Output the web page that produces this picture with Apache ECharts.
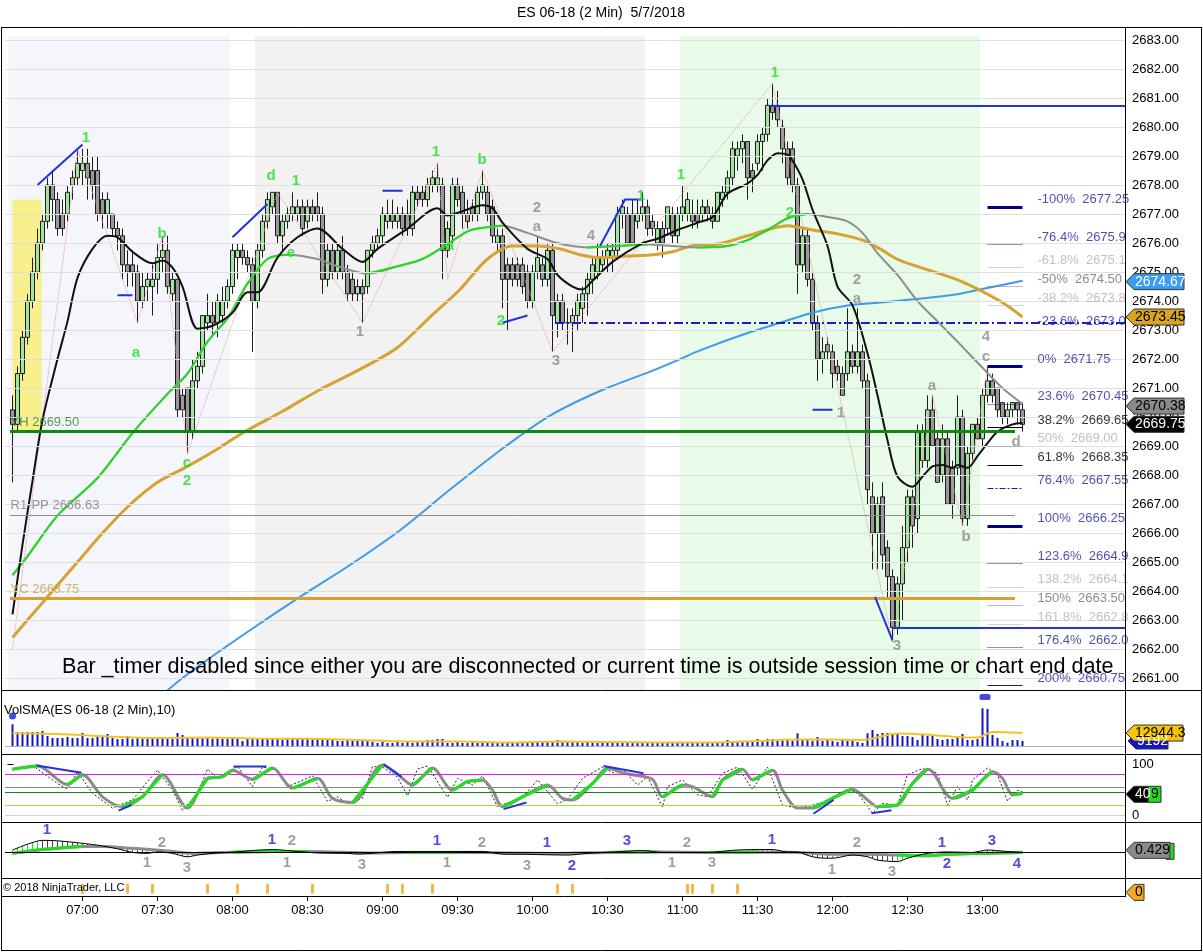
<!DOCTYPE html>
<html><head><meta charset="utf-8">
<script src="https://cdn.jsdelivr.net/npm/echarts@6/dist/echarts.min.js"></script>
<style>html,body{margin:0;padding:0;background:#fff;}#c{width:1203px;height:952px;}</style>
</head><body><div id="c"></div>
<script>
// ---------- categories (2-minute bars from 06:30) ----------
const times = [];
for (let i = 0; i < 224; i++) { const m = 390 + 2 * i; times.push(String(Math.floor(m / 60)).padStart(2, '0') + ':' + String(m % 60).padStart(2, '0')); }
const FIRST = 1; // first bar = 06:32
// ---------- candles [open, high, low, close] ----------
const ohlc = [
[2670.25,2670.75,2667.75,2669.75],[2669.75,2671.75,2669.5,2671.5],[2671.5,2673,2671.25,2672.75],[2672.75,2674.25,2672.5,2674],[2674,2675.5,2673.75,2675],
[2675,2676.5,2674.75,2676],[2676,2677,2675.75,2676.75],[2676.75,2678.25,2676.5,2678],[2678,2678.5,2676.75,2677.5],[2677.5,2677.75,2676.25,2676.5],
[2677,2677.5,2676.25,2676.5],[2677,2678,2676.75,2677.75],[2678,2678.5,2677.5,2678.25],[2678.25,2679.25,2678,2678.75],[2678.5,2679.25,2678,2678.75],
[2678.75,2679.25,2677.5,2678.25],[2678.5,2679,2677.5,2678],[2678.5,2679,2676.75,2677],[2677.5,2677.75,2676.5,2677],[2677,2677.75,2676.5,2677.5],
[2677,2677,2676.25,2676.5],[2676.5,2676.75,2675.75,2676.25],[2676.25,2676.5,2674.75,2675.25],[2675.25,2675.75,2674.5,2675],[2675.25,2675.75,2674.5,2675],
[2675,2675.25,2673.25,2674],[2674,2675,2673.75,2674.5],[2674.5,2675,2674,2674.75],[2674.5,2675.25,2673.5,2674.75],[2674.75,2676,2674.25,2675.5],
[2675.5,2676.25,2675,2675.75],[2675.75,2676.25,2674.25,2674.5],[2674.25,2675,2674,2674.75],[2674.75,2674.75,2670,2670.25],[2670.75,2671,2670,2670.25],
[2671,2671,2668.75,2669.5],[2669.5,2672,2669.25,2671.25],[2671.25,2672.25,2671,2671.75],[2671.75,2673.5,2671.5,2673.5],[2673.25,2674.25,2673,2673.5],
[2673.5,2674,2672.75,2673.25],[2673.25,2674.25,2672.75,2674],[2673.5,2674.5,2673.25,2674],[2674,2674.75,2673.75,2674.5],[2674.5,2676,2674.25,2675.75],
[2675.5,2676,2674.75,2675.75],[2675.75,2676,2675.25,2675.5],[2675.5,2675.75,2675,2675.25],[2675.25,2675.5,2672.25,2674],[2674,2676,2673.75,2675.75],
[2675.75,2677,2675.5,2676.75],[2676.75,2677.75,2676.5,2677.5],[2677.25,2677.75,2677,2677.75],[2677.75,2677.75,2676,2676.25],[2676.25,2677,2675.75,2676.75],
[2676.75,2677.25,2676.5,2677],[2677,2677.75,2676.75,2677.25],[2677,2677.5,2676.75,2677.25],[2677.25,2677.5,2676.25,2676.5],[2676.75,2677.5,2676.5,2677.25],
[2677.25,2677.5,2676.75,2677],[2677.25,2677.75,2676.75,2677],[2677,2677.25,2674.25,2674.75],[2674.75,2676,2674.5,2675.75],[2675.75,2676,2674.75,2675],
[2675,2676,2674.75,2675.75],[2675.75,2676.25,2674.75,2675],[2675,2675.25,2674,2674.25],[2674.75,2675,2674,2674.25],[2674.25,2674.75,2674,2674.5],
[2674.5,2674.75,2673.25,2674.25],[2674.5,2675.75,2674.25,2675.75],[2675.75,2676.25,2675.5,2676],[2676,2676.5,2675.75,2676.25],[2676.25,2677.25,2676,2677],
[2676.75,2677.5,2676.5,2677],[2677,2677.5,2676.5,2676.75],[2676.75,2677.25,2676.5,2677],[2677,2677.25,2676.25,2676.5],[2677,2677.5,2676.25,2676.5],
[2676.5,2678,2676.25,2677.75],[2677.75,2678,2677.25,2677.5],[2677.75,2678,2677.25,2677.5],[2677.5,2678.25,2677.25,2678],[2678,2678.5,2677.75,2678.25],
[2678,2678.75,2677.75,2678.25],[2678,2678.25,2674.75,2675.75],[2675.75,2676.75,2675.5,2676.5],[2676.25,2678.25,2676,2678],[2678,2678.25,2677.25,2677.5],
[2677.75,2678,2676.5,2677],[2677,2677.5,2676.5,2676.75],[2677.25,2677.5,2676.75,2677],[2677,2678,2676.75,2677.75],[2677.75,2678.5,2677.5,2678],
[2677.75,2678,2676.75,2677],[2677.25,2677.5,2676,2676.25],[2676,2676.5,2675.75,2676.25],[2676.25,2676.5,2673.75,2674.75],[2675.25,2675.5,2673,2674.75],
[2675.25,2675.5,2674.5,2674.75],[2675.25,2675.5,2674.5,2674.75],[2675.25,2675.5,2674.25,2674.5],[2675,2675.25,2673.75,2674],[2674,2675.25,2673.75,2675],
[2675,2676.25,2674.75,2675.5],[2675.25,2675.5,2674.5,2674.75],[2674.75,2676,2674.5,2675.75],[2675.75,2676,2672.25,2673.5],[2673.25,2674.25,2672.75,2674],
[2674,2674.25,2673,2673.25],[2673.25,2673.75,2672.5,2673.25],[2673.25,2673.75,2672.25,2673.5],[2673.5,2674.25,2673,2674],[2673.75,2674.5,2673.25,2674.25],
[2674.25,2675,2673.5,2674.75],[2674.75,2675.5,2674.25,2675.25],[2675,2676,2674.75,2675.5],[2675.25,2675.75,2675,2675.5],[2675.5,2676,2675,2675.75],
[2675.5,2676,2675,2675.75],[2675.75,2677.25,2675.5,2677],[2677,2677.5,2676.5,2677.25],[2677,2677.25,2676,2676],[2677,2677.5,2676,2676],
[2676.75,2677.5,2676.5,2677],[2677,2677.75,2676.75,2677.25],[2677.25,2677.5,2676.25,2676.5],[2676.75,2677,2676.25,2676.5],[2676,2676.75,2675.75,2676.5],
[2676.5,2676.75,2675.5,2676],[2676.5,2677.25,2676.25,2677.25],[2677,2677.25,2676,2676.25],[2676.25,2677.25,2676,2677],[2677,2678,2676.75,2677.25],
[2677,2677.75,2676.75,2677.5],[2677,2677.5,2676.5,2676.75],[2677,2677.5,2676.5,2676.75],[2677,2677.5,2676.75,2677.25],[2677.25,2677.5,2676.75,2677],
[2677,2677.25,2676.5,2676.75],[2676.75,2677.75,2676.75,2677.75],[2677.5,2678,2677.25,2677.75],[2677.75,2678.5,2677.5,2678.25],[2678.25,2679.5,2678,2679.25],
[2679,2679.5,2678.5,2679.25],[2679.25,2679.75,2678.75,2679.5],[2679.5,2679.5,2677.5,2678.25],[2678.5,2678.75,2677.75,2678.25],[2678.75,2679.75,2678.5,2679.5],
[2679.5,2680,2678.5,2679.75],[2679.75,2681,2679.5,2680.75],[2680.75,2681.5,2680.25,2680.5],[2680.75,2681.25,2680,2680.25],[2680,2680.25,2678.75,2679.25],
[2679.25,2679.5,2678,2678.25],[2679.25,2679.5,2677.75,2678],[2678,2678.25,2674.25,2675.25],[2675.25,2676.5,2675,2676.25],[2676.25,2676.5,2674.5,2674.75],
[2674.75,2675,2673,2673.25],[2673.25,2673.5,2671.25,2672],[2672,2672.75,2671.5,2672.25],[2672.5,2672.75,2672,2672.25],[2672.25,2672.5,2671,2671.5],
[2671.75,2672,2671.25,2671.5],[2671.5,2671.75,2670.75,2670.75],[2671.5,2673.75,2671.25,2672.25],[2672.25,2672.5,2671.5,2671.75],[2671.75,2673.75,2671.5,2672.25],
[2672.25,2672.5,2671,2671.25],[2671.25,2671.5,2667,2667.5],[2667.25,2667.75,2664.75,2666],[2666,2667.25,2664.75,2667],[2667.25,2667.75,2664.75,2665.25],
[2665.5,2665.75,2663.75,2664.5],[2664.5,2664.75,2662.25,2662.75],[2662.75,2664.5,2662.5,2664.25],[2664.25,2666.25,2663,2665.5],[2665.5,2667.5,2665,2667.25],
[2667.25,2667.5,2665.5,2666.25],[2666.5,2669.75,2666,2669.5],[2668.5,2669.75,2668.25,2669.5],[2668.5,2670.75,2668.25,2670.25],[2670.25,2670.75,2669,2669],
[2669.25,2669.5,2667.75,2667.75],[2668,2669.75,2667.75,2669.25],[2669.25,2669.5,2667,2667],[2668.25,2668.5,2666.5,2667],[2668.25,2670.75,2668,2670],
[2670,2670.25,2666.25,2666.5],[2666.5,2669,2666.25,2668.75],[2668.75,2669.75,2668.5,2669.75],[2669.75,2670,2669.25,2669.25],[2669.25,2671,2669,2670.75],
[2670.75,2671.75,2670.5,2671.25],[2671.25,2671.5,2670.5,2670.75],[2671,2671,2670,2670.25],[2670.5,2670.5,2669.75,2670],[2670,2670.5,2669.75,2670.25],
[2670.25,2670.5,2670,2670.5],[2670.5,2670.5,2669.75,2670.25],[2670.25,2670.5,2669.5,2669.75]
];
// ---------- moving averages [bar index, price] ----------
const maBlack = [[1,2663.2],[3,2665.6],[5,2667.8],[7,2669.9],[10,2672],[12,2673.3],[14,2674.8],[17,2675.8],[20,2676.25],[22,2676.2],[25,2675.7],[29,2675.3],[31,2675.4],[33,2675.15],[35,2674.5],[38,2673.05],[41,2673.15],[45,2673.6],[48,2674.3],[50,2674.3],[54,2675.5],[58,2676.2],[62,2676.5],[67,2675.8],[71,2675.35],[74,2675.8],[80,2676.5],[86,2677.2],[88,2676.95],[91,2677.1],[95,2677.3],[97,2677.2],[99,2676.7],[104,2675.8],[108,2675.45],[110,2674.9],[113,2674.5],[115,2674.4],[117,2674.7],[121,2675.35],[127,2676.0],[130,2676.15],[134,2676.45],[138,2676.7],[141,2676.9],[144,2677.7],[148,2678.05],[150,2678.35],[152,2678.85],[154,2679.1],[156,2679.05],[157,2678.85],[159,2678.2],[161,2677.15],[164,2675.9],[166,2674.5],[169,2673.85],[172,2672.2],[174,2670.75],[176,2669.2],[178,2667.95],[181,2667.6],[183,2667.95],[185,2668.3],[187,2668.35],[189,2668.25],[190,2668.35],[192,2668.25],[194,2668.65],[196,2669.1],[198,2669.5],[201,2669.75],[203,2669.8]];
const maGreen = [[1,2664.55],[4,2665.2],[10,2666.6],[18,2667.9],[25,2669.45],[32,2670.8],[36,2671.5],[40,2672.6],[44,2673.4],[46,2674.0],[48,2674.6],[52,2675.45],[56,2675.6],[62,2675.45],[66,2675.2],[72,2674.95],[78,2675.2],[83,2675.45],[87,2675.85],[92,2676.4],[94,2676.5],[99,2676.6],[104,2676.35],[110,2676.0],[116,2675.85],[122,2675.9],[128,2675.95],[133,2675.9],[138,2675.85],[144,2675.9],[148,2676.1],[152,2676.45],[156,2676.85],[160,2677.0],[164,2676.9],[168,2676.75],[171,2676.35],[174,2675.65],[178,2674.9],[182,2674.0],[186,2673.3],[190,2672.6],[195,2671.7],[199,2671.0],[203,2670.45]];
const greenRanges = [[1,56],[71,99],[116,128],[138,160]];
const maGold = [[1,2662.4],[5,2663.2],[9,2664.0],[14,2665.0],[19,2666.0],[24,2666.9],[30,2667.75],[36,2668.3],[42,2668.9],[47,2669.45],[55,2670.2],[62,2670.9],[70,2671.6],[78,2672.4],[84.5,2673.45],[90.5,2674.4],[96,2675.45],[101,2675.9],[106,2675.9],[110.5,2675.8],[114.5,2675.6],[118.5,2675.5],[123.8,2675.55],[129.2,2675.6],[133,2675.7],[138.5,2675.95],[141,2675.95],[148,2676.25],[156,2676.6],[161,2676.45],[166.5,2676.3],[171,2676.1],[174.5,2675.8],[178.5,2675.4],[190.5,2674.7],[198.5,2674.0],[203,2673.45]];
const maBlue = [[28,2659.9],[32.5,2660.65],[38.5,2661.45],[48.5,2662.65],[58.5,2663.8],[68.5,2664.9],[78.5,2666.1],[88.5,2667.5],[98.5,2668.85],[108.5,2670.05],[118.5,2670.9],[129,2671.6],[134.5,2672.0],[138.5,2672.3],[148,2672.9],[154.5,2673.25],[161,2673.6],[168,2673.85],[174.5,2673.95],[188.5,2674.2],[194.5,2674.4],[203,2674.7]];
const zigzag = [[1,2662.0],[14,2679.25],[26,2673.25],[31,2676.25],[36,2668.75],[54,2677.75],[71,2673.25],[86,2678.75],[88,2674.75],[95,2678.5],[109,2672.25],[153,2681.5],[177,2662.25],[185,2670.75],[191,2666.25],[196,2671.75]];
const waveSegs = [[[6,2678.0],[15,2679.4]],[[22,2674.2],[25,2674.2]],[[45,2676.2],[52,2677.35]],[[75,2677.8],[79,2677.8]],[[99,2673.25],[104,2673.5]],[[118.5,2675.9],[123.5,2677.5],[127,2677.5]],[[161,2670.25],[165,2670.25]],[[173.5,2663.8],[177,2662.3]]];
// ---------- shading sessions [fromBar, toBar] ----------
const sessions = [[0.2,44.5],[49.5,127.5],[134.5,194.5]];
const sessionTop = 2683.14;
const yellowBox = [[1,2669.55],[6.85,2677.5]];
// ---------- horizontal levels ----------
const levelPrice = [2669.5, 2666.63, 2663.75, 2680.75, 2662.75, 2673.25];
const levelFrom  = [0.5, 0.5, 0.5, 152.5, 177, 109.5];
const levelTo    = [201.5, 201.5, 201.5, 223.5, 223.5, 223.5];
const levelText  = ['YH 2669.50', 'R1-PP 2666.63', 'YC 2663.75'];
// ---------- fibonacci ----------
const fibPct   = ['-100%','-76.4%','-61.8%','-50%','-38.2%','-23.6%','0%','23.6%','38.2%','50%','61.8%','76.4%','100%','123.6%','138.2%','150%','161.8%','176.4%','200%'];
const fibPrice = [2677.25,2675.95,2675.15,2674.5,2673.85,2673.05,2671.75,2670.45,2669.65,2669.0,2668.35,2667.55,2666.25,2664.95,2664.15,2663.5,2662.85,2662.05,2660.75];
const fibText  = ['2677.25','2675.9','2675.1','2674.50','2673.8','2673.0','2671.75','2670.45','2669.65','2669.00','2668.35','2667.55','2666.25','2664.9','2664.1','2663.50','2662.8','2662.0','2660.75'];
const fibKind  = ['thick','dot','lgray','dgray','lgray','none','thick','dot','black','lsolid','black','dashdot','thick','dot','lgray','dgray','lgray','dot','solid'];
// ---------- wave labels [bar, price, text] ----------
const greenLabels = [[15.7,2679.62,'1'],[30.9,2676.31,'b'],[25.7,2672.21,'a'],[35.9,2668.41,'c'],[35.9,2667.79,'2'],[52.7,2678.31,'d'],[57.7,2678.14,'1'],[56.7,2675.66,'e'],[85.7,2679.14,'1'],[94.9,2678.86,'b'],[88.5,2675.9,'a'],[98.7,2673.31,'2'],[126.7,2677.62,'1'],[134.7,2678.34,'1'],[153.5,2681.86,'1'],[156.5,2677.03,'2']];
const grayLabels = [[70.5,2672.93,'1'],[105.9,2677.21,'2'],[105.9,2676.55,'a'],[116.7,2676.24,'4'],[109.7,2671.93,'3'],[169.9,2674.72,'2'],[169.9,2674.07,'a'],[166.7,2670.14,'1'],[177.9,2662.1,'3'],[184.9,2671.07,'a'],[191.7,2665.86,'b'],[195.7,2672.76,'4'],[195.7,2672.07,'c'],[201.7,2669.14,'d']];
const priceTicks = [2661,2662,2663,2664,2665,2666,2667,2668,2669,2670,2671,2672,2673,2674,2675,2676,2677,2678,2679,2680,2681,2682,2683];
// ---------- volume (thousands) ----------
const volume = [21.7,14,14,14,14,14,15,10,8,8, 8,9,8,8,13,8,8,10,9,12, 8,7,7,10,7,8,7,7,7,8, 8,7,7,13,11,9,9,8,9,8,
 7,8,7,7,8,9,5,7,8,7, 8,7,7,7,6,7,8,7,8,8, 7,7,7,6,7,5,5,6,5,5, 6,5,4,3,4,3,3,4,3,4, 3,4,4,6,6,7,7,3,3,4,
 3,3,4,3,3,4,3,4,3,3, 4,3,4,4,3,4,4,5,5,6, 5,5,5,4,3,4,3,3,4,3, 3,4,3,3,4,3,3,3,4,3, 4,3,3,4,3,3,4,3,3,4,
 3,4,4,6,4,4,5,4,5,7, 6,7,7,6,7,6,5,12.7,6,6, 5,9,5,6,5,4,6,5,5,4, 3,12.7,16,12,13,13,13,13,10,10,
 9,6,12,10,11,7,6,7,7,8, 12,6,6,7,37.7,37,11,8,5,3.3, 6,6,5];
const volSma = [[1,12.7],[10,12],[20,9.5],[30,8],[40,8.5],[50,7.5],[60,7.2],[70,6],[80,4.5],[90,4.5],[100,3.5],[110,4.5],[120,4],[130,3.5],[140,3.5],[150,5],[158,6.5],[165,6.5],[171,6],[178,12.5],[185,11],[190,9],[194,8.5],[197,14],[203,13]];
const volDots = [[1,30],[195.5,49]];
// ---------- stochastics ----------
const stochD = [[1,90],[6,96],[12,60],[15,79],[19,36],[23,17],[27,36],[31,79],[36,14],[40,72],[43,75],[45,88],[49,70],[53,92],[57,53],[62,72],[65,33],[69,25],[75,98],[78,80],[81,59],[85,92],[89,49],[92,66],[95,69],[97,49],[99,17],[103,36],[108,59],[111,33],[113,30],[117,62],[120,92],[123,83],[125,79],[129,70],[131,36],[135,59],[137,56],[141,36],[143,69],[147,90],[149,69],[153,88],[155,49],[158,14],[161,14],[165,33],[169,51],[172,30],[174,17],[178,20],[181,62],[184,90],[185,85],[189,33],[193,49],[195,69],[197,85],[199,72],[201,40],[203,43]];
const stochK = [[1,88],[5,97],[10,62],[12,51],[14,85],[17,43],[21,14],[25,30],[28,66],[30,88],[33,49],[35,10],[38,43],[40,90],[42,72],[44,85],[46,95],[49,56],[51,94],[54,88],[56,56],[58,64],[61,77],[64,27],[66,36],[68,23],[71,33],[73,95],[75,94],[78,74],[80,38],[82,90],[84,96],[88,35],[90,72],[93,59],[95,77],[98,17],[103,35],[106,69],[110,23],[112,31],[115,72],[119,94],[122,79],[123,90],[126,59],[128,75],[131,16],[132,56],[135,69],[138,40],[140,36],[143,82],[146,94],[149,51],[152,94],[155,20],[158,14],[160,17],[163,25],[168,51],[170,43],[173,4],[175,23],[178,20],[180,79],[183,91],[186,82],[188,20],[190,56],[192,30],[193,69],[196,92],[198,79],[200,28],[202,49],[203,45]];
const stochLevels = [80, 55, 45, 20, 0];
const stochSegs = [[[5.8,97],[14.8,83]],[[22.2,9],[24.8,20]],[[45.2,95],[51.8,95]],[[75.2,100],[78.8,75]],[[99.2,12],[103.8,25]],[[119.2,96],[127.2,82]],[[161.2,3],[165.2,30]],[[172.8,4],[176.8,10]]];
const stochTicks = [0, 100];
// ---------- MACD-like oscillator ----------
const macdLine = [[1,0.5],[4,1.7],[7,2.5],[10,2.4],[14,2.0],[18,1.5],[22,0.75],[25,0],[28,-0.2],[30,0.1],[33,-0.2],[36,-0.9],[38,-0.55],[41,-0.2],[45,0.05],[53,0.6],[58,0.2],[62,-0.1],[68,-0.2],[70,-0.35],[75,0],[78,0.2],[87,0.2],[95,0.2],[99,-0.35],[104,-0.4],[112,-0.55],[116,-0.2],[123,0.2],[127,0.4],[131,0],[140,0],[146,0.5],[153,0.6],[156,0.1],[158,0.1],[160,-0.6],[162,-1.1],[165,-1.2],[169,-0.55],[172,-0.9],[174,-1.6],[178,-1.9],[180,-1.2],[184,-0.2],[188,0.1],[193,0],[196,0.5],[200,0.2],[203,0]];
const macdSignal = [[1,-0.2],[7,0.6],[15,1.25],[19,1.25],[25,0.85],[32,0.3],[37,-0.2],[40,-0.1],[45,0.05],[53,0.2],[60,0.2],[67,0.05],[73,-0.1],[80,0],[90,0],[100,-0.1],[110,-0.2],[120,0],[130,0.1],[140,0],[150,0.1],[158,0],[165,-0.4],[172,-0.4],[178,-0.55],[184,-0.7],[188,-0.4],[195,-0.2],[203,0]];
const signalGreen = [[1,18],[41,62],[75,96],[114,131],[139,155],[178,203]];
const macdLabelsGray = [[30.9,1.9,'2'],[27.9,-2.2,'1'],[35.9,-3.2,'3'],[56.9,2.3,'2'],[55.9,-2.2,'1'],[70.9,-2.6,'3'],[94.9,1.9,'2'],[87.9,-2.2,'1'],[103.9,-2.8,'3'],[135.9,1.9,'2'],[132.9,-2.2,'1'],[140.9,-2.2,'3'],[169.9,1.9,'2'],[164.9,-3.7,'1'],[176.9,-4.1,'3']];
const macdLabelsBlue = [[7.9,4.6,'1'],[52.9,2.5,'1'],[85.9,2.3,'1'],[107.9,1.9,'1'],[112.9,-2.8,'2'],[123.9,2.3,'3'],[152.9,2.5,'1'],[186.9,1.9,'1'],[187.9,-2.4,'2'],[196.9,2.3,'3'],[201.9,-2.4,'4']];
// ---------- bottom strip markers ----------
const stripMarks = [15,24,29,40,46,52,61,76,79,85,110,113,136,137,141,146];

// ================= build =================
const FONT = '"Liberation Sans", Arial, sans-serif';
const chart = echarts.init(document.getElementById('c'), null, {renderer: 'canvas'});
const G_LEFT = 5, G_RIGHT = 78;
const mkGrid = (top, height) => ({left: G_LEFT, right: G_RIGHT, top, height, containLabel: false, outerBoundsMode: 'none'});
const grids = [mkGrid(27, 663), mkGrid(690, 56), mkGrid(754, 68), mkGrid(822, 56), mkGrid(878, 18)];
const xAxes = [0,1,2,3].map(i => ({type: 'value', gridIndex: i, min: -0.5, max: 223.5, show: false}));
const isLabelTime = (i, v) => i >= 15 && i <= 203 && /:(00|30)$/.test(v);
xAxes.push({type: 'category', gridIndex: 4, data: times, boundaryGap: true,
  axisLine: {show: false}, axisTick: {show: true, interval: isLabelTime, alignWithLabel: true, length: 5, lineStyle: {color: '#000'}},
  axisLabel: {interval: isLabelTime, color: '#000', fontSize: 13, fontFamily: FONT, margin: 8}, splitLine: {show: false}});
const hiddenY = (gi, min, max) => ({type: 'value', gridIndex: gi, position: 'right', min, max, axisLine: {show: false}, axisTick: {show: false}, axisLabel: {show: false}, splitLine: {show: false}});
const yAxes = [
  {type: 'value', gridIndex: 0, position: 'right', min: 2660.59, max: 2683.45, axisLine: {show: false},
   axisTick: {show: true, length: 6, customValues: priceTicks, lineStyle: {color: '#000'}},
   axisLabel: {customValues: priceTicks, formatter: v => Number(v).toFixed(2), color: '#000', fontSize: 13, fontFamily: FONT, margin: 7},
   splitLine: {show: false}},
  hiddenY(1, 0, 56),
  {type: 'value', gridIndex: 2, position: 'right', min: -13.1, max: 119.5, axisLine: {show: false},
   axisTick: {show: true, length: 6, customValues: stochTicks, lineStyle: {color: '#000'}},
   axisLabel: {customValues: stochTicks, color: '#000', fontSize: 13, fontFamily: FONT, margin: 7}, splitLine: {show: false}},
  hiddenY(3, -5.3, 6.3),
  hiddenY(4, 0, 1)
];
const holder = (xi, z, extra) => Object.assign({type: 'line', xAxisIndex: xi, yAxisIndex: xi, data: [[-10, -100]], symbol: 'none', silent: true, z, lineStyle: {opacity: 0}}, extra);
const seg = (a, b, style) => [{coord: a, lineStyle: style}, {coord: b}];
const series = [];
// backgrounds
const sessionColors = ['#f4f6fc', '#f2f2f2', '#e8fae8'];
series.push(holder(0, 1, {markArea: {silent: true, label: {show: false}, data: sessions.map((s, i) => [
  {xAxis: s[0], yAxis: 2660.59, itemStyle: {color: sessionColors[i]}}, {xAxis: s[1], yAxis: sessionTop}])}}));
// grid lines
series.push(holder(0, 2, {markLine: {silent: true, symbol: ['none', 'none'], label: {show: false},
  lineStyle: {color: '#dfdfdf', width: 1, type: 'solid'}, data: priceTicks.map(v => ({yAxis: v}))}}));
// yellow box
series.push(holder(0, 2.5, {markArea: {silent: true, label: {show: false}, data: [[
  {xAxis: yellowBox[0][0], yAxis: yellowBox[0][1], itemStyle: {color: '#f7f08c'}}, {xAxis: yellowBox[1][0], yAxis: yellowBox[1][1]}]]}}));
// candles
series.push({type: 'candlestick', xAxisIndex: 0, yAxisIndex: 0, z: 3, barWidth: 4,
  dimensions: ['k', 'open', 'close', 'lowest', 'highest'], encode: {x: 'k', y: ['open', 'close', 'lowest', 'highest']},
  data: ohlc.map((r, i) => [FIRST + i, r[0], r[3], r[2], r[1]]),
  itemStyle: {color: '#a2e3a2', color0: '#999999', borderColor: '#1c1c1c', borderColor0: '#1c1c1c', borderWidth: 1}});
const line = (xi, data, color, width, z, type, extra) => Object.assign({type: 'line', xAxisIndex: xi, yAxisIndex: xi, data, symbol: 'none', silent: true, z,
  lineStyle: {color, width, type: type || 'solid'}, connectNulls: false}, extra || {});
series.push(line(0, zigzag, '#e59a9a', 1, 4, 'dotted'));
series.push(line(0, maBlue, '#3d9be9', 2, 4, 'solid', {smooth: 0.3}));
series.push(line(0, maGold, '#d6a233', 3, 4, 'solid', {smooth: 0.3}));
series.push(line(0, maGreen, '#8e8e8e', 2, 4, 'solid', {smooth: 0.3}));
greenRanges.forEach(r => series.push(line(0, maGreen.filter(p => p[0] >= r[0] && p[0] <= r[1]), '#22dd22', 2, 4, 'solid', {smooth: 0.3})));
series.push(line(0, maBlack, '#111', 2, 4, 'solid', {smooth: 0.3}));
// levels
const levelStyles = [
  {color: '#118811', width: 3, type: 'solid'}, {color: '#8e8e8e', width: 1, type: 'solid'}, {color: '#d4a232', width: 3, type: 'solid'},
  {color: '#2233dd', width: 2, type: 'solid'}, {color: '#2233dd', width: 2, type: 'solid'}, {color: '#1c1cc8', width: 2, type: [9, 3, 2, 3]}];
series.push(holder(0, 5, {markLine: {silent: true, symbol: ['none', 'none'], label: {show: false},
  data: levelPrice.map((p, i) => seg([levelFrom[i], p], [levelTo[i], p], levelStyles[i]))}}));
// fibonacci short lines
const fibStyle = {
  thick: {color: '#000080', width: 3, type: 'solid'}, dot: {color: '#1a1a9a', width: 1, type: 'dotted'},
  lgray: {color: '#aaaaaa', width: 1, type: 'dotted'}, dgray: {color: '#777', width: 1, type: 'dotted'},
  black: {color: '#000', width: 1, type: 'solid'}, lsolid: {color: '#b5b5b5', width: 1, type: 'solid'},
  dashdot: {color: '#1a1a9a', width: 1, type: [6, 2, 2, 2]}, solid: {color: '#1a1a9a', width: 1, type: 'solid'}};
const fibColor = {thick: '#1f1f9c', dot: '#1f1f9c', lgray: '#b2b2b2', dgray: '#6e6e6e', black: '#000', lsolid: '#b2b2b2', dashdot: '#1f1f9c', solid: '#1f1f9c', none: '#1f1f9c'};
series.push(holder(0, 5, {markLine: {silent: true, symbol: ['none', 'none'], label: {show: false},
  data: fibPrice.map((p, i) => fibKind[i] === 'none' ? null : seg([196, p], [203, p], fibStyle[fibKind[i]])).filter(Boolean)}}));
// wave segments
const segData = [];
waveSegs.forEach(s => { s.forEach(p => segData.push(p)); segData.push([s[s.length - 1][0], '-']); });
series.push(line(0, segData, '#2233dd', 2, 5));
// labels
const textSeries = (xi, arr, color, size, weight, pos, z) => ({type: 'scatter', xAxisIndex: xi, yAxisIndex: xi, silent: true, z: z || 6,
  symbol: 'circle', symbolSize: 1, itemStyle: {color: 'rgba(0,0,0,0)'},
  data: arr.map(a => ({value: [a[0], a[1]], name: a[2]})),
  label: {show: true, position: pos || 'inside', formatter: '{b}', color, fontSize: size, fontWeight: weight, fontFamily: FONT, distance: 0}});
series.push(textSeries(0, greenLabels, '#22dd22', 15, 'bold'));
series.push(textSeries(0, grayLabels, '#8a8a8a', 15, 'bold'));
series.push({type: 'scatter', xAxisIndex: 0, yAxisIndex: 0, silent: true, z: 6, symbolSize: 1, itemStyle: {color: 'rgba(0,0,0,0)'},
  data: fibPrice.map((p, i) => ({value: [205.9, p + 0.25], name: fibPct[i] + '  ' + fibText[i],
    label: {color: fibColor[fibKind[i]]}})),
  label: {show: true, position: 'right', distance: 0, formatter: '{b}', fontSize: 13, fontFamily: FONT}});
const levelTextColor = ['#2f7f2f', '#7a7a7a', '#c9a13c'];
series.push({type: 'scatter', xAxisIndex: 0, yAxisIndex: 0, silent: true, z: 6, symbolSize: 1, itemStyle: {color: 'rgba(0,0,0,0)'},
  data: levelText.map((t, i) => ({value: [0.5, levelPrice[i] + 0.31], name: t, label: {color: levelTextColor[i]}})),
  label: {show: true, position: 'right', distance: 0, formatter: '{b}', fontSize: 13, fontFamily: FONT}});
// volume panel
series.push(holder(1, 1, {markLine: {silent: true, symbol: ['none', 'none'], label: {show: false}, lineStyle: {color: '#b0b0b0', width: 1, type: 'solid'}, data: [{yAxis: 0}]}}));
series.push({type: 'bar', xAxisIndex: 1, yAxisIndex: 1, barWidth: 2, silent: true, z: 3, itemStyle: {color: '#1212cc'},
  data: volume.map((v, i) => [FIRST + i, v])});
series.push(line(1, volSma, '#f2c523', 2, 4, 'solid', {smooth: 0.3}));
series.push({type: 'scatter', xAxisIndex: 1, yAxisIndex: 1, silent: true, z: 5, itemStyle: {color: '#1a1ad8'},
  data: [{value: volDots[0], symbolSize: 7}, {value: volDots[1], symbol: 'roundRect', symbolSize: [11, 6]}]});
// stochastics panel
const stochLevelStyles = [{color: '#e020e0'}, {color: '#8a8a8a'}, {color: '#1f7f1f'}, {color: '#9be23c'}, {color: '#d0d0d0'}];
series.push(holder(2, 2, {markLine: {silent: true, symbol: ['none', 'none'], label: {show: false},
  data: stochLevels.map((v, i) => ({yAxis: v, lineStyle: Object.assign({width: 1, type: 'solid'}, stochLevelStyles[i])}))}}));
series.push(line(2, stochK, '#222', 1, 3, [2, 2]));
series.push(line(2, stochD, '#8c8c8c', 3, 4, 'solid', {smooth: 0.3}));
const stochUp = [];
for (let i = 0; i < stochD.length - 1; i++) {
  if (stochD[i + 1][1] > stochD[i][1]) {
    const last = stochUp[stochUp.length - 1];
    if (!last || last[0] !== stochD[i][0]) { if (last) stochUp.push([stochD[i][0], '-']); stochUp.push(stochD[i]); }
    stochUp.push(stochD[i + 1]);
  }
}
series.push(line(2, stochUp, '#22dd22', 3, 5));
const sSeg = []; stochSegs.forEach(s => { sSeg.push(s[0], s[1], [s[1][0], '-']); });
series.push(line(2, sSeg, '#2233dd', 2, 6));
// MACD panel
series.push(holder(3, 2, {markLine: {silent: true, symbol: ['none', 'none'], label: {show: false}, lineStyle: {color: '#000', width: 1, type: 'solid'}, data: [{yAxis: 0}]}}));
const sigAt = k => { for (let i = 0; i < macdSignal.length - 1; i++) { const a = macdSignal[i], b = macdSignal[i + 1]; if (k >= a[0] && k <= b[0]) return a[1] + (b[1] - a[1]) * (k - a[0]) / (b[0] - a[0]); } return 0; };
series.push({type: 'custom', xAxisIndex: 3, yAxisIndex: 3, silent: true, z: 3,
  data: macdLine.slice(0, -1).map(p => [p[0], p[1]]), encode: {x: 0, y: 1},
  renderItem: (params, api) => {
    const i = params.dataIndex, a = macdLine[i], b = macdLine[i + 1];
    const col = b[1] >= a[1] ? '#2bd12b' : '#444';
    const ch = [];
    for (let k = Math.ceil(a[0]); k < b[0]; k++) {
      const m = a[1] + (b[1] - a[1]) * (k - a[0]) / (b[0] - a[0]);
      const p1 = api.coord([k, m]), p2 = api.coord([k, sigAt(k)]);
      ch.push({type: 'line', shape: {x1: p1[0], y1: p1[1], x2: p1[0], y2: p2[1]}, style: {stroke: col, lineWidth: 1}});
    }
    return {type: 'group', children: ch};
  }});
series.push(line(3, macdSignal, '#8c8c8c', 3, 4, 'solid', {smooth: 0.3}));
signalGreen.forEach(r => {
  const pts = macdSignal.filter(p => p[0] >= r[0] && p[0] <= r[1]);
  if (pts.length < 2) pts.push([r[1], sigAt(r[1])]);
  series.push(line(3, pts, '#22dd22', 3, 4, 'solid', {smooth: 0.3}));
});
series.push(line(3, macdLine, '#000', 1, 5, 'solid', {smooth: 0.3}));
series.push(textSeries(3, macdLabelsGray, '#8a8a8a', 15, 'bold'));
series.push(textSeries(3, macdLabelsBlue, '#2222cc', 15, 'bold'));
// bottom strip markers
series.push({type: 'scatter', xAxisIndex: 4, yAxisIndex: 4, silent: true, z: 4, symbol: 'rect', symbolSize: [3, 10],
  itemStyle: {color: '#f5a623'}, data: stripMarks.map(k => [k, 0.4])});

chart.setOption({animation: false, backgroundColor: '#fff', grid: grids, xAxis: xAxes, yAxis: yAxes, series});

// ---------- frame, texts and price tags ----------
const G = [];
const gl = (x1, y1, x2, y2, c, w) => G.push({type: 'line', silent: true, z: 100, shape: {x1, y1, x2, y2}, style: {stroke: c || '#000', lineWidth: w || 1}});
gl(1, 27.5, 1202, 27.5); gl(1.5, 27, 1.5, 951); gl(1201.5, 27, 1201.5, 951); gl(1, 950.5, 1202, 950.5);
[690.5, 754.5, 822.5, 878.5].forEach(y => gl(1, y, 1202, y));
gl(1, 896.5, 1125.5, 896.5); gl(1125.5, 27, 1125.5, 897);
const gt = (x, y, text, size, extra) => G.push(Object.assign({type: 'text', silent: true, z: 110, x, y,
  style: Object.assign({text, fill: '#000', font: size + 'px ' + FONT, verticalAlign: 'middle'}, extra || {})}));
gt(601, 13, 'ES 06-18 (2 Min)  5/7/2018', 14, {align: 'center'});
gt(62, 667, 'Bar _timer disabled since either you are disconnected or current time is outside session time or chart end date', 21.6);
gt(4, 710, 'VolSMA(ES 06-18 (2 Min),10)', 13);
gt(3, 888, '\u00a9 2018 NinjaTrader, LLC', 11);
const tag = (y, text, bg, fg, w, x0) => {
  x0 = x0 || 1126;
  G.push({type: 'polygon', silent: true, z: 120, shape: {points: [[x0, y], [x0 + 8, y - 8], [x0 + w, y - 8], [x0 + w, y + 8], [x0 + 8, y + 8]]}, style: {fill: bg, stroke: '#333', lineWidth: 1}});
  G.push({type: 'text', silent: true, z: 121, x: x0 + 9, y, style: {text, fill: fg, font: '14px ' + FONT, verticalAlign: 'middle'}});
};
const py = (ai, v) => chart.convertToPixel({yAxisIndex: ai}, v);
tag(py(0, 2674.67), '2674.67', '#3b9cf2', '#fff', 58);
tag(py(0, 2673.45), '2673.45', '#d9a521', '#000', 58);
tag(py(0, 2670.38), '2670.38', '#8a8a8a', '#000', 58);
tag(py(0, 2669.75), '2669.75', '#000', '#fff', 58);
tag(py(1, 5), '9192', '#1515d0', '#fff', 40, 1128);
tag(py(1, 12.94), '12944.3', '#f6c400', '#000', 57);
G.push({type: 'rect', silent: true, z: 119, shape: {x: 1148, y: py(2, 40.9) - 8, width: 13, height: 16}, style: {fill: '#22dd22', stroke: '#333'}});
G.push({type: 'text', silent: true, z: 119, x: 1151, y: py(2, 40.9), style: {text: '9', fill: '#000', font: '14px ' + FONT, verticalAlign: 'middle'}});
tag(py(2, 40.9), '40', '#000', '#fff', 22);
G.push({type: 'rect', silent: true, z: 119, shape: {x: 1166, y: py(3, 0.429) - 7, width: 8, height: 16}, style: {fill: '#22dd22', stroke: '#333'}});
tag(py(3, 0.429), '0.429', '#8a8a8a', '#000', 44);
tag(py(4, 0.2), '0', '#f5a623', '#000', 18);
chart.setOption({graphic: G});
</script></body></html>
